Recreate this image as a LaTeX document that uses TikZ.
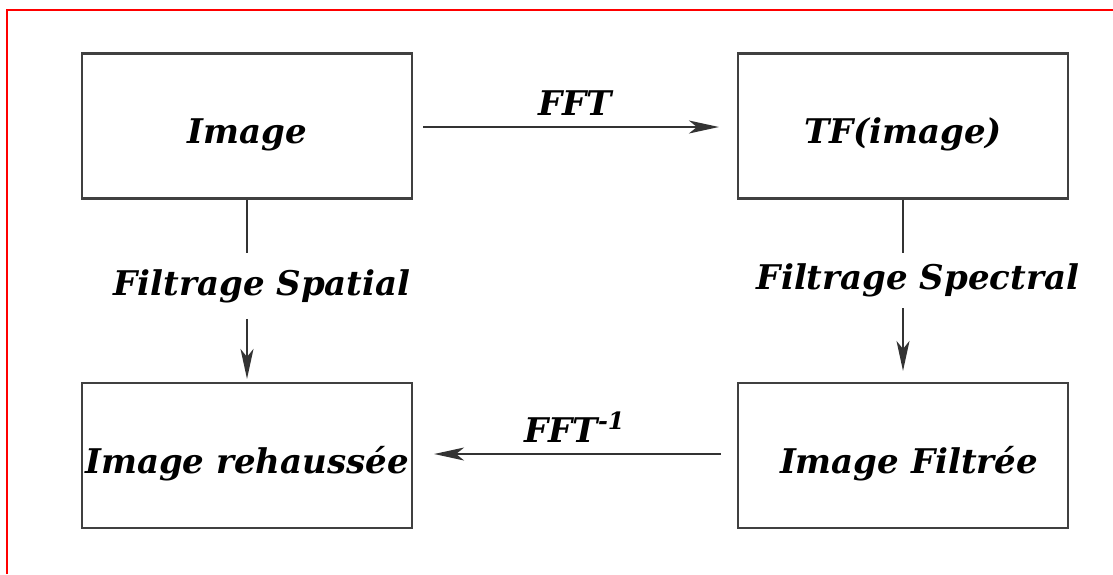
\documentclass[tikz,border=0pt]{standalone}
\usepackage{fontspec}
\setmainfont{DejaVu Serif}
\usetikzlibrary{positioning}
\usetikzlibrary{arrows.meta}

\begin{document}
\begin{tikzpicture}[x=0.5pt, y=-0.5pt,
		every node/.style={font=\fontsize{17}{20}\selectfont\bfseries\itshape},
		bloc/.style={draw=black!75, line width=1.1pt, inner sep=1pt, minimum width=165pt, minimum height=72.5pt,
			text height=17.5pt, text depth=0pt},
		fleche/.style={draw=black!80, line width=0.85pt},
		pointe/.style={fleche, -{Stealth[length=15pt, width=6.5pt, inset=4pt]}}
	]
	\useasboundingbox (0,0) rectangle (1113,574);
	\draw[red, line width=1pt] (7,574) -- (7,10) -- (1113,10);
	
	\node[bloc] (img) at (247,126) {Image};
	\node[bloc] (tf) at (903,126) {TF(image)};
	\node[bloc] (reh) at (247,455.5) {Image rehauss\'ee};
	\node[bloc] (filt) at (903,455.5) {\hspace{6pt}Image Filtr\'ee};
	
	\node[minimum height=32.5pt, inner sep=0pt] (spatial) at (262,286) {Filtrage Spatial};
	\node[minimum height=27.5pt, inner sep=0pt] (spectral) at (918,280.5) {Filtrage Spectral};
	
	\draw[pointe, shorten <=5pt, shorten >=9pt] (img.east |- 0,127) -- node[above=2pt] {FFT} (tf.west |- 0,127);
	\draw[pointe, shorten <=8pt, shorten >=10.5pt] (filt.west |- 0,454) -- node[above=2pt] {FFT\textsuperscript{-1}} (reh.east |- 0,454);
	
	\draw[fleche] (img.south) -- (img.south |- spatial.north);
	\draw[pointe, shorten >=1.5pt] (img.south |- spatial.south) -- (reh.north);
	\draw[fleche] (tf.south) -- (tf.south |- spectral.north);
	\draw[pointe, shorten >=5.5pt] (tf.south |- spectral.south) -- (filt.north);
\end{tikzpicture}
\end{document}
